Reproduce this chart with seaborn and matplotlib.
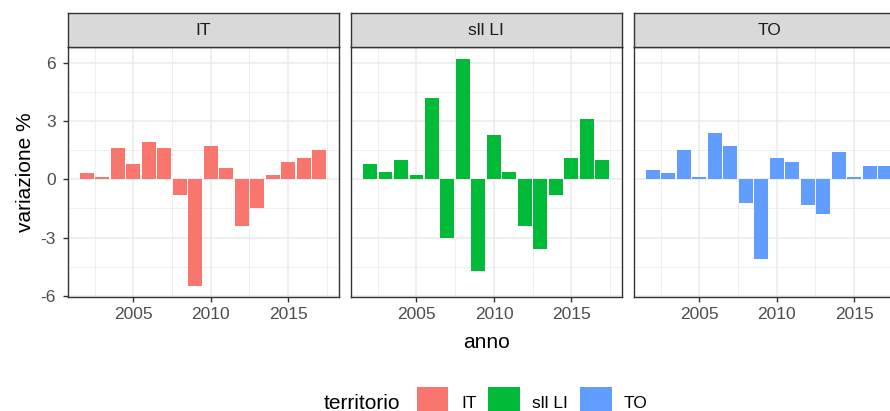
import numpy as np
import pandas as pd
import matplotlib
matplotlib.use("Agg")
import matplotlib.pyplot as plt
from matplotlib.patches import Rectangle
import seaborn as sns

# data
anni = list(range(2002, 2018))
var_it = [0.3, 0.1, 1.6, 0.8, 1.9, 1.6, -0.8, -5.5, 1.7, 0.6, -2.4, -1.5, 0.2, 0.9, 1.1, 1.5]
var_sll = [0.8, 0.4, 1.0, 0.2, 4.2, -3.0, 6.2, -4.7, 2.3, 0.4, -2.4, -3.6, -0.8, 1.1, 3.1, 1.0]
var_to = [0.5, 0.3, 1.5, 0.1, 2.4, 1.7, -1.2, -4.1, 1.1, 0.9, -1.3, -1.8, 1.4, 0.1, 0.7, 0.7]
territori = ["IT", "sll LI", "TO"]
colori = ["#F8766D", "#00BA38", "#619CFF"]

df = pd.DataFrame({
    "anno": anni * 3,
    "variazione": var_it + var_sll + var_to,
    "territorio": [t for t in territori for _ in anni],
})

plt.rcParams["font.family"] = ["Liberation Sans", "DejaVu Sans"]

W, H = 890, 411
fig = plt.figure(figsize=(W / 100, H / 100), dpi=100)

# ggplot-like expansion of the scales
x_lo, x_hi = min(anni) - 0.45, max(anni) + 0.45
x_pad = (x_hi - x_lo) * 0.05
y_lo, y_hi = df["variazione"].min(), df["variazione"].max()
y_pad = (y_hi - y_lo) * 0.05

panel_left = [67.5, 350.7, 633.5]
panel_w = 271
top, bottom = 47.5, 297.5
strip_top = 13.3

grey20 = "#333333"
grey30 = "#4D4D4D"

for i, terr in enumerate(territori):
    x0 = panel_left[i] / W
    ax = fig.add_axes([x0, 1 - bottom / H, panel_w / W, (bottom - top) / H])
    sub = df[df["territorio"] == terr]
    sns.barplot(data=sub, x="anno", y="variazione", native_scale=True,
                color=colori[i], saturation=1, width=0.9, errorbar=None,
                linewidth=0, ax=ax)
    ax.set_xlim(x_lo - x_pad, x_hi + x_pad)
    ax.set_ylim(y_lo - y_pad, y_hi + y_pad)
    ax.set_xticks([2005, 2010, 2015])
    ax.set_xticks([2002.5, 2007.5, 2012.5, 2017.5], minor=True)
    ax.set_yticks([-6, -3, 0, 3, 6])
    ax.set_yticks([-4.5, -1.5, 1.5, 4.5], minor=True)
    ax.set_xticklabels(["2005", "2010", "2015"])
    ax.grid(True, which="major", color="#EBEBEB", linewidth=1.1)
    ax.grid(True, which="minor", color="#EBEBEB", linewidth=0.55)
    ax.set_axisbelow(True)
    ax.set_facecolor("white")
    for s in ax.spines.values():
        s.set_color(grey20)
        s.set_linewidth(1.0)
    ax.tick_params(axis="x", which="major", length=3.5, width=1.0, color=grey20,
                   labelcolor=grey30, labelsize=12.5, pad=3)
    ax.tick_params(which="minor", length=0)
    if i == 0:
        ax.set_yticklabels(["-6", "-3", "0", "3", "6"])
        ax.tick_params(axis="y", which="major", length=3.5, width=1.0, color=grey20,
                       labelcolor=grey30, labelsize=12.5, pad=5)
        ax.set_ylabel("variazione %", fontsize=15, color="black", labelpad=4)
    else:
        ax.tick_params(axis="y", which="major", length=0, labelleft=False)
        ax.set_ylabel("")
    ax.set_xlabel("")

    # facet strip
    sax = fig.add_axes([x0, 1 - top / H, panel_w / W, (top - strip_top) / H])
    sax.set_facecolor("#D9D9D9")
    sax.set_xticks([])
    sax.set_yticks([])
    for s in sax.spines.values():
        s.set_color(grey20)
        s.set_linewidth(1.0)
    sax.text(0.5, 0.5, terr, ha="center", va="center", fontsize=12.5,
             color="#1A1A1A", transform=sax.transAxes)

fig.text(486 / W, 1 - 342 / H, "anno", ha="center", va="center", fontsize=15)

# legend at the bottom, ggplot style
fig.text(324 / W, 1 - 403 / H, "territorio", ha="left", va="center", fontsize=15)
key_x = [416.7, 488.3, 580.0]
lab_x = [461.7, 532.0, 624.0]
for kx, lx, terr, col in zip(key_x, lab_x, territori, colori):
    fig.add_artist(Rectangle((kx / W, 1 - 418 / H), 31.5 / W, 31.3 / H,
                             transform=fig.transFigure, facecolor=col,
                             edgecolor="none"))
    fig.text(lx / W, 1 - 403 / H, terr, ha="left", va="center", fontsize=12.5)

fig.savefig("out.png", dpi=100)
